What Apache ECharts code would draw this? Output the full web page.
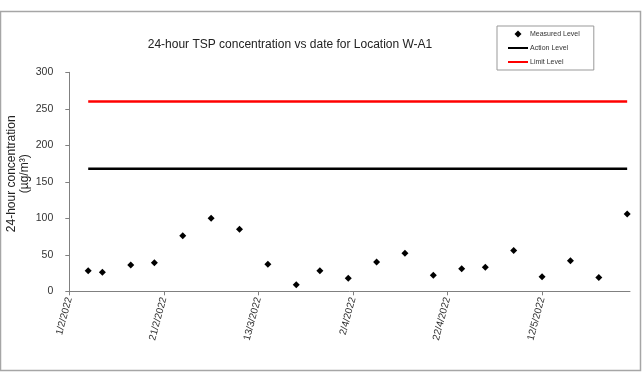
<!DOCTYPE html>
<html>
<head>
<meta charset="utf-8">
<script src="https://cdn.jsdelivr.net/npm/echarts@6/dist/echarts.min.js"></script>
<style>html,body{margin:0;padding:0;background:#fff}#c{width:643px;height:384px}</style>
</head>
<body>
<div id="c"></div>
<script>
// Data
var dates = ["5/2/2022","8/2/2022","14/2/2022","19/2/2022","25/2/2022","3/3/2022","9/3/2022","15/3/2022","21/3/2022","26/3/2022","1/4/2022","7/4/2022","13/4/2022","19/4/2022","25/4/2022","30/4/2022","6/5/2022","12/5/2022","18/5/2022","24/5/2022","30/5/2022"];
var measured = [28, 26, 36, 39, 76, 100, 85, 37, 9, 28, 18, 40, 52, 22, 31, 33, 56, 20, 42, 19, 106];
var actionLevel = 168;
var limitLevel = 260;
var xTickLabels = ["1/2/2022","21/2/2022","13/3/2022","2/4/2022","22/4/2022","12/5/2022"];
var yTicks = [0, 50, 100, 150, 200, 250, 300];

var origin = Date.UTC(2022, 1, 1);
function dayOf(s) {
  var p = s.split('/');
  return Math.round((Date.UTC(+p[2], +p[1] - 1, +p[0]) - origin) / 86400000);
}
var xs = dates.map(dayOf);
var tickDays = xTickLabels.map(dayOf);
var labelMap = {};
tickDays.forEach(function (d, i) { labelMap[d] = xTickLabels[i]; });

var iconDiamond = 'path://M0,0L0,0M20,8L20,8M10,0.5L13.5,4L10,7.5L6.5,4Z';
var iconLine = 'path://M0,0L0,0M20,8L20,8M0,3L20,3L20,5L0,5Z';

var font = '"Liberation Sans", Arial, sans-serif';
var chart = echarts.init(document.getElementById('c'), null, {renderer: 'canvas'});
chart.setOption({
  backgroundColor: '#fff',
  animation: false,
  textStyle: {fontFamily: font},
  graphic: [{
    type: 'rect', shape: {x: 0.5, y: 11.5, width: 640, height: 359},
    style: {fill: 'none', stroke: '#a6a6a6', lineWidth: 1.5}, silent: true, z: -1
  }],
  title: {
    text: '24-hour TSP concentration vs date for Location W-A1',
    left: 285, top: 34, textAlign: 'center',
    textStyle: {fontSize: 12, fontWeight: 'normal', color: '#222', fontFamily: font}
  },
  legend: {
    orient: 'vertical', left: 497, top: 26,
    padding: [4, 14, 4, 11],
    borderColor: '#999', borderWidth: 1,
    itemWidth: 20, itemHeight: 8, itemGap: 6,
    textStyle: {fontSize: 7, color: '#333', fontFamily: font, padding: [0, 0, 0, -3]},
    data: [
      {name: 'Measured Level', icon: iconDiamond},
      {name: 'Action Level', icon: iconLine},
      {name: 'Limit Level', icon: iconLine}
    ]
  },
  grid: {left: 69.3, right: 13, top: 72.3, bottom: 92.7, containLabel: false, outerBoundsMode: 'none'},
  xAxis: {
    type: 'value', min: 0, max: 118.6, interval: 20,
    axisLine: {show: true, lineStyle: {color: '#808080', width: 1}},
    axisTick: {show: true, length: 4, lineStyle: {color: '#808080'}, customValues: tickDays},
    splitLine: {show: false},
    axisLabel: {
      customValues: tickDays,
      rotate: 75, margin: 6, fontSize: 10, color: '#333', fontFamily: font,
      formatter: function (v) { return labelMap[Math.round(v)] || ''; }
    }
  },
  yAxis: {
    type: 'value', min: yTicks[0], max: yTicks[yTicks.length - 1], interval: 50,
    name: '24-hour concentration\n(µg/m³)',
    nameLocation: 'middle', nameGap: 38, nameRotate: 90, nameMoveOverlap: false,
    nameTextStyle: {fontSize: 12, color: '#222', lineHeight: 13, fontFamily: font, padding: [0, 0, 0, 16]},
    axisLine: {show: true, lineStyle: {color: '#808080', width: 1}},
    axisTick: {show: true, length: 4, lineStyle: {color: '#808080'}},
    splitLine: {show: false},
    axisLabel: {fontSize: 10.5, color: '#333', margin: 16, fontFamily: font}
  },
  series: [
    {
      name: 'Measured Level', type: 'scatter', symbol: 'diamond', symbolSize: 7,
      itemStyle: {color: '#000', opacity: 1},
      data: xs.map(function (x, i) { return [x, measured[i]]; }), z: 5
    },
    {
      name: 'Action Level', type: 'line', symbol: 'none', showSymbol: false,
      lineStyle: {color: '#000', width: 2.5}, itemStyle: {color: '#000'},
      data: [[xs[0], actionLevel], [xs[xs.length - 1], actionLevel]]
    },
    {
      name: 'Limit Level', type: 'line', symbol: 'none', showSymbol: false,
      lineStyle: {color: '#ff0000', width: 2.5}, itemStyle: {color: '#ff0000'},
      data: [[xs[0], limitLevel], [xs[xs.length - 1], limitLevel]]
    }
  ]
});
</script>
</body>
</html>
